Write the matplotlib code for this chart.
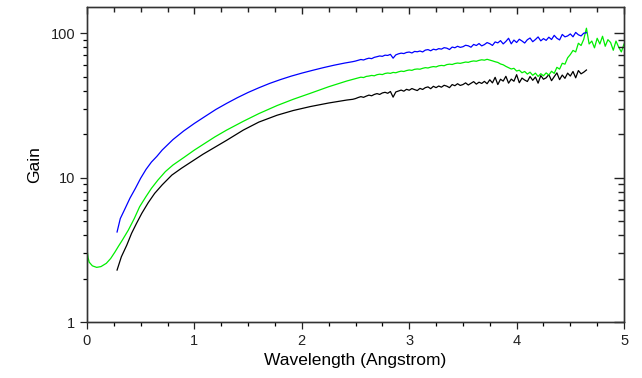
import numpy as np
import matplotlib
matplotlib.use('Agg')
import matplotlib.pyplot as plt
from matplotlib.ticker import MultipleLocator, FuncFormatter, LogLocator, NullFormatter

plt.rcParams['font.family'] = ['Liberation Sans', 'DejaVu Sans']

# smooth (low-wavelength) part
blue_x_lo = [0.28, 0.31, 0.35, 0.40, 0.45, 0.50, 0.55, 0.60, 0.65, 0.70, 0.80, 0.90,
             1.00, 1.10, 1.20, 1.30, 1.40, 1.50, 1.60, 1.70, 1.80, 1.90, 2.00, 2.10,
             2.20, 2.30, 2.40, 2.475]
blue_y_lo = [4.2, 5.2, 6.0, 7.2, 8.4, 9.9, 11.4, 12.8, 14.0, 15.5, 18.3, 21.0,
             23.7, 26.5, 29.6, 32.6, 35.7, 38.8, 41.8, 44.8, 47.6, 50.3, 52.8, 55.2,
             57.6, 59.9, 62.0, 63.4]

green_x_lo = [0.00, 0.01, 0.02, 0.05, 0.09, 0.13, 0.18, 0.22, 0.26, 0.29, 0.33, 0.385,
              0.44, 0.49, 0.55, 0.60, 0.66, 0.73, 0.80, 0.91, 1.00, 1.10, 1.19, 1.30,
              1.455, 1.60, 1.77, 1.92, 2.08, 2.25, 2.42, 2.475]
green_y_lo = [3.2, 2.8, 2.6, 2.45, 2.39, 2.42, 2.55, 2.75, 3.05, 3.32, 3.7, 4.33,
              5.2, 6.28, 7.4, 8.42, 9.6, 11.0, 12.2, 13.9, 15.5, 17.3, 19.1, 21.3,
              24.5, 27.7, 31.5, 34.8, 38.3, 42.5, 46.6, 47.8]

black_x_lo = [0.28, 0.32, 0.37, 0.415, 0.46, 0.51, 0.57, 0.63, 0.70, 0.79, 0.88, 0.975,
              1.08, 1.19, 1.30, 1.455, 1.60, 1.77, 1.92, 2.08, 2.25, 2.42, 2.475]
black_y_lo = [2.29, 2.83, 3.4, 4.11, 4.8, 5.65, 6.7, 7.77, 8.9, 10.4, 11.6, 12.9,
              14.5, 16.2, 18.1, 21.3, 24.2, 27.0, 29.1, 31.0, 32.8, 34.4, 34.8]

# noisy (high-wavelength) part, one value every 0.025 Angstrom from 2.5
blue_y_hi = [64.0, 64.8, 65.6, 65.1, 66.2, 67.0, 66.5, 67.9,
             68.6, 69.4, 69.0, 70.3, 70.0, 71.2, 67.0, 70.6,
             71.8, 72.6, 72.1, 73.4, 73.9, 72.8, 74.6, 74.2,
             75.1, 74.0, 76.2, 76.8, 75.4, 77.3, 76.5, 78.0,
             77.4, 79.2, 78.6, 76.9, 80.0, 79.1, 81.0, 79.6,
             80.4, 82.3, 81.6, 79.8, 83.4, 82.0, 84.6, 81.5,
             83.2, 85.9, 84.4, 82.1, 86.8, 85.5, 88.6, 84.1,
             87.5, 92.0, 84.2, 89.4, 86.0, 90.6, 88.1, 85.3,
             89.9, 92.4, 87.1, 90.2, 94.0, 88.3, 91.5, 89.0,
             93.6, 90.2, 96.4, 92.0, 89.6, 97.8, 94.1, 95.5,
             98.6, 94.2, 101.0, 97.3, 95.5, 99.8, 100.5]

green_y_hi = [48.3, 48.9, 49.5, 49.2, 50.1, 50.4, 50.9, 50.6,
              51.5, 51.9, 51.6, 52.5, 52.9, 52.6, 53.4, 53.1,
              53.9, 54.5, 54.2, 55.0, 55.5, 55.2, 56.1, 56.4,
              56.2, 57.0, 57.6, 57.3, 58.1, 58.6, 58.3, 59.3,
              59.7, 59.4, 60.5, 60.9, 60.6, 61.5, 62.0, 61.7,
              62.4, 63.0, 62.7, 63.6, 64.1, 63.8, 64.7, 65.3,
              64.9, 65.8, 65.0, 64.2, 63.3, 62.6, 61.1, 60.3,
              58.8, 57.6, 56.4, 57.0, 54.6, 55.3, 53.1, 54.2,
              52.0, 53.6, 51.0, 52.8, 50.1, 52.3, 50.6, 53.0,
              51.2, 54.4, 52.6, 57.9, 56.3, 61.8, 60.9, 67.4,
              71.0, 75.8, 74.0, 85.0, 82.0, 90.5, 108.0, 84.0,
              88.0, 79.0, 92.0, 84.0, 95.0, 81.0, 90.0, 86.0,
              76.0, 88.0, 80.0, 74.0, 84.0]

black_y_hi = [35.2, 35.8, 36.3, 35.9, 36.6, 37.2, 36.8, 37.6,
              38.1, 37.6, 38.5, 38.9, 38.3, 39.4, 36.0, 39.1,
              39.7, 40.3, 39.6, 40.8, 40.2, 41.3, 40.6, 40.0,
              41.4, 40.7, 41.9, 42.4, 41.2, 42.8, 41.9, 43.0,
              42.2, 43.5, 42.9, 41.9, 44.0, 43.2, 44.6, 43.4,
              44.0, 45.2, 43.7, 44.9, 46.1, 44.3, 45.7, 44.8,
              46.3, 44.6, 47.5, 45.2, 49.4, 44.0, 47.9, 46.5,
              50.2, 45.0, 48.0, 46.4, 51.5, 45.3, 48.8, 47.3,
              46.2, 50.0, 47.1, 49.6, 45.0, 50.8, 47.9, 49.0,
              51.6, 46.8, 49.9, 53.0, 47.6, 51.2, 48.6, 52.8,
              50.4, 54.2, 49.0, 55.0, 52.2, 53.6, 55.5]

step = 0.025
blue_x = blue_x_lo + list(2.5 + step * np.arange(len(blue_y_hi)))
blue_y = blue_y_lo + blue_y_hi
green_x = green_x_lo + list(2.5 + step * np.arange(len(green_y_hi)))
green_y = green_y_lo + green_y_hi
black_x = black_x_lo + list(2.5 + step * np.arange(len(black_y_hi)))
black_y = black_y_lo + black_y_hi

fig = plt.figure(figsize=(6.42, 3.78), dpi=100)
ax = fig.add_axes([0.1355, 0.148, 0.8365, 0.833])

ax.plot(black_x, black_y, color='black', lw=0.9)
ax.plot(green_x, green_y, color='#00ee00', lw=0.9)
ax.plot(blue_x, blue_y, color='#0000ff', lw=0.9)

ax.set_yscale('log')
ax.set_xlim(0, 5)
ax.set_ylim(1, 151)

ax.xaxis.set_major_locator(MultipleLocator(1))
ax.xaxis.set_minor_locator(MultipleLocator(0.25))
ax.yaxis.set_major_locator(LogLocator(base=10))
ax.yaxis.set_minor_locator(LogLocator(base=10, subs=np.arange(2, 10)))
ax.yaxis.set_major_formatter(FuncFormatter(lambda v, p: '%g' % v))
ax.yaxis.set_minor_formatter(NullFormatter())

ax.tick_params(which='major', direction='out', length=5, width=0.9, labelsize=10.5,
               colors='#222222', top=False, right=False)
ax.tick_params(which='minor', direction='out', length=3, width=0.9, top=False, right=False)

# inward ticks on top and right, like the original
ax_r = ax.twinx()
ax_r.set_yscale('log')
ax_r.set_ylim(1, 151)
ax_r.yaxis.set_major_locator(LogLocator(base=10))
ax_r.yaxis.set_minor_locator(LogLocator(base=10, subs=np.arange(2, 10)))
ax_r.yaxis.set_minor_formatter(NullFormatter())
ax_r.tick_params(axis='y', which='major', direction='in', length=7, width=1.0,
                 color='#222222', right=True, labelright=False)
ax_r.tick_params(axis='y', which='minor', direction='in', length=4.5, width=1.0,
                 color='#222222', right=True, labelright=False)

ax_t = ax.twiny()
ax_t.set_xlim(0, 5)
ax_t.xaxis.set_major_locator(MultipleLocator(1))
ax_t.xaxis.set_minor_locator(MultipleLocator(0.25))
ax_t.tick_params(axis='x', which='major', direction='in', length=5, width=1.0,
                 color='#222222', top=True, labeltop=False)
ax_t.tick_params(axis='x', which='minor', direction='in', length=3.5, width=1.0,
                 color='#222222', top=True, labeltop=False)

for a in (ax, ax_r, ax_t):
    for s in a.spines.values():
        s.set_linewidth(0.9)
        s.set_color('#333333')

ax.set_xlabel('Wavelength (Angstrom)', fontsize=12.5, labelpad=4)
ax.set_ylabel('Gain', fontsize=12.5, labelpad=6)

fig.savefig('out.png', dpi=100)
